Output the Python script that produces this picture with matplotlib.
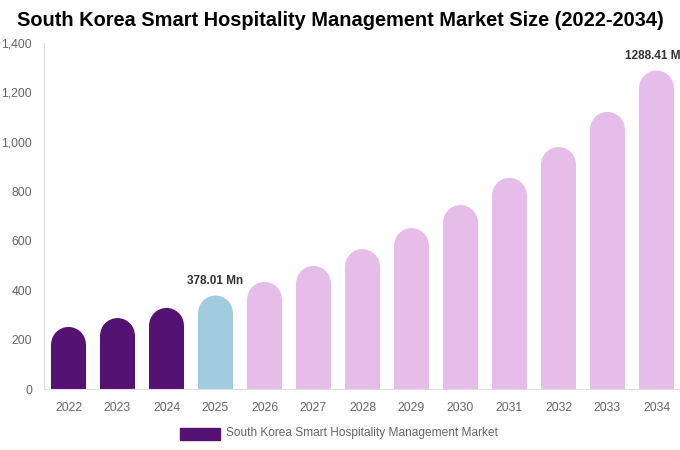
import matplotlib
matplotlib.use("Agg")
import matplotlib.pyplot as plt
from matplotlib.patches import Ellipse, Rectangle
import matplotlib.ticker as ticker

years = ["2022", "2023", "2024", "2025", "2026", "2027", "2028",
         "2029", "2030", "2031", "2032", "2033", "2034"]
values = [251, 287, 328, 378.01, 433, 498, 566, 651, 744, 854, 979, 1121, 1288.41]
labels = {3: "378.01 Mn", 12: "1288.41 Mn"}

PURPLE = "#541273"
BLUE = "#a3cbdf"
PINK = "#e6bde8"


def bar_color(i):
    if i < 3:
        return PURPLE
    if i == 3:
        return BLUE
    return PINK


def main():
    plt.rcParams["font.family"] = ["Liberation Sans", "DejaVu Sans"]
    fig = plt.figure(figsize=(6.8, 4.5), dpi=100)
    ax = fig.add_axes([44 / 680, 61 / 450, 637 / 680, 346 / 450])
    ax.set_xlim(-0.5, len(years) - 0.5)
    ax.set_ylim(0, 1400)

    width = 0.71
    # radius of the round cap, in y data units (keep it circular on screen)
    x_px = ax.transData.transform((1, 0))[0] - ax.transData.transform((0, 0))[0]
    y_px = ax.transData.transform((0, 1))[1] - ax.transData.transform((0, 0))[1]
    ry = (width / 2) * x_px / y_px

    for i, v in enumerate(values):
        c = bar_color(i)
        ax.bar(i, v - ry, width=width, color=c, linewidth=0)
        ax.add_patch(Ellipse((i, v - ry), width, 2 * ry, color=c, linewidth=0))
        if i in labels:
            ax.text(i, v + 35, labels[i], ha="center", va="bottom",
                    fontsize=8.5, fontweight="bold", color="#333333",
                    clip_on=False)

    ax.set_xticks(range(len(years)))
    ax.set_xticklabels(years)
    ax.set_yticks(range(0, 1401, 200))
    ax.yaxis.set_major_formatter(ticker.FuncFormatter(lambda x, p: f"{int(x):,}"))
    ax.tick_params(axis="both", length=0, labelsize=8.7, labelcolor="#666666")
    ax.tick_params(axis="x", pad=9.5)
    ax.tick_params(axis="y", pad=8.5)
    for s in ["top", "right"]:
        ax.spines[s].set_visible(False)
    ax.spines["left"].set_color("#dddddd")
    ax.spines["bottom"].set_color("#dddddd")

    fig.text(0.5, 1 - 21 / 450, "South Korea Smart Hospitality Management Market Size (2022-2034)",
             ha="center", va="center", fontsize=14.4, fontweight="bold", color="#000000")

    fig.patches.append(Rectangle((180 / 680, 1 - 440 / 450), 40 / 680, 12 / 450,
                                 transform=fig.transFigure, color=PURPLE, figure=fig))
    fig.text(226 / 680, 1 - 433 / 450, "South Korea Smart Hospitality Management Market",
             ha="left", va="center", fontsize=8.6, color="#666666")

    fig.savefig("out.png", dpi=100)


if __name__ == "__main__":
    main()
